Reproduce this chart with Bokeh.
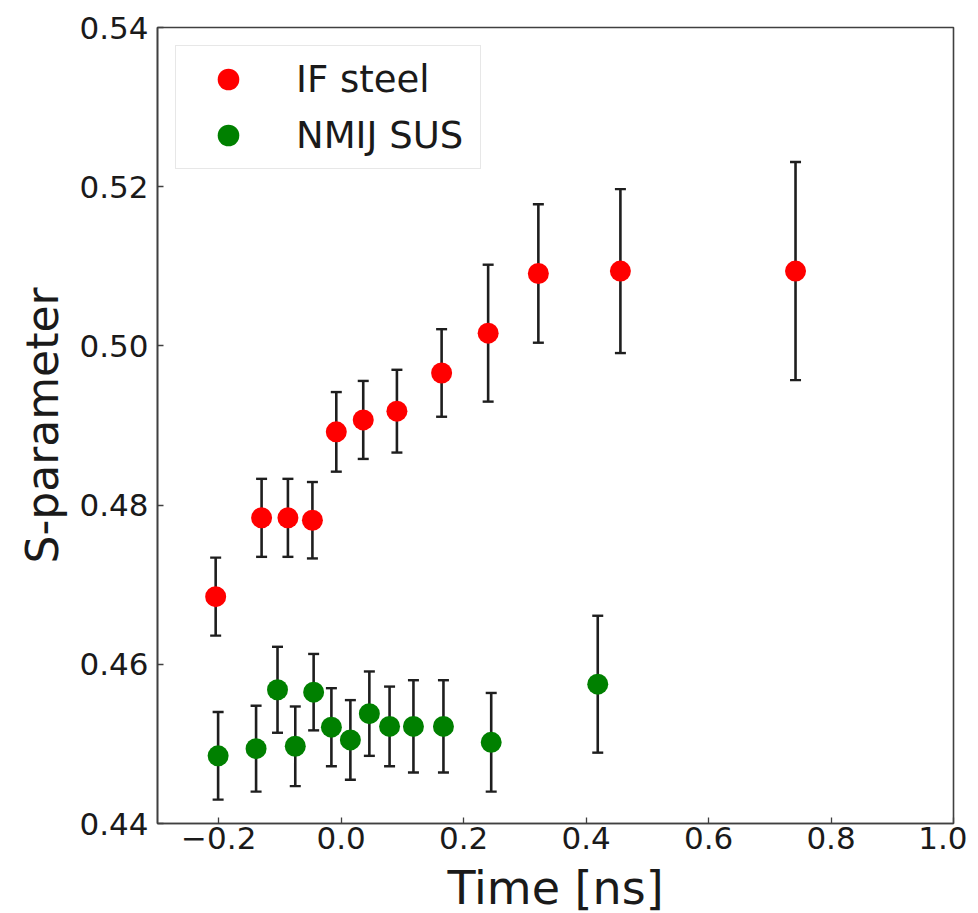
from bokeh.plotting import figure
from bokeh.models import ColumnDataSource, Whisker, TeeHead, FixedTicker, Range1d, Legend, LegendItem
from bokeh.embed import file_html
from bokeh.resources import INLINE

# ---- data ----
if_time = [-0.205, -0.130, -0.087, -0.047, -0.008, 0.036, 0.091, 0.164, 0.240, 0.322, 0.456, 0.742]
if_s    = [0.4685, 0.4784, 0.4784, 0.4781, 0.4892, 0.4907, 0.4918, 0.4966, 0.5016, 0.5091, 0.5094, 0.5094]
if_err  = [0.0049, 0.0049, 0.0049, 0.0048, 0.0050, 0.0049, 0.0052, 0.0055, 0.0086, 0.0087, 0.0103, 0.0137]

sus_time = [-0.201, -0.139, -0.104, -0.075, -0.045, -0.016, 0.015, 0.046, 0.079, 0.118, 0.167, 0.245, 0.419]
sus_s    = [0.4485, 0.4494, 0.4568, 0.4497, 0.4565, 0.4521, 0.4505, 0.4538, 0.4522, 0.4522, 0.4522, 0.4502, 0.4575]
sus_err  = [0.0055, 0.0054, 0.0054, 0.0050, 0.0048, 0.0049, 0.0050, 0.0053, 0.0050, 0.0058, 0.0058, 0.0062, 0.0086]

x_ticks = [-0.2, 0.0, 0.2, 0.4, 0.6, 0.8, 1.0]
x_tick_labels = ["\u22120.2", "0.0", "0.2", "0.4", "0.6", "0.8", "1.0"]
y_ticks = [0.44, 0.46, 0.48, 0.50, 0.52, 0.54]
y_tick_labels = ["0.44", "0.46", "0.48", "0.50", "0.52", "0.54"]

series_names = ["IF steel", "NMIJ SUS"]
series_colors = ["#ff0000", "#008000"]

FONT = "DejaVu Sans"
TXT = "#1a1a1a"
SPINE = "#404040"

p = figure(frame_width=796, frame_height=796,
           x_range=Range1d(-0.3, 1.0), y_range=Range1d(0.44, 0.54),
           output_backend="svg", toolbar_location=None,
           min_border_left=157, min_border_top=27, min_border_right=14, min_border_bottom=10)
p.xgrid.visible = False
p.ygrid.visible = False
p.outline_line_color = SPINE
p.outline_line_width = 1.6
p.background_fill_color = "white"
p.border_fill_color = "white"

for ax in (p.xaxis[0], p.yaxis[0]):
    ax.axis_line_color = SPINE
    ax.axis_line_width = 1.6
    ax.major_tick_line_color = SPINE
    ax.major_tick_line_width = 1.3
    ax.major_tick_in = 6
    ax.major_tick_out = 0
    ax.minor_tick_line_color = None
    ax.major_label_text_font = FONT
    ax.major_label_text_font_size = "31px"
    ax.major_label_text_color = TXT
    ax.axis_label_text_font = FONT
    ax.axis_label_text_font_style = "normal"
    ax.axis_label_text_color = TXT

p.xaxis.ticker = FixedTicker(ticks=x_ticks)
p.xaxis.major_label_overrides = {t: l for t, l in zip(x_ticks, x_tick_labels)}
p.yaxis.ticker = FixedTicker(ticks=y_ticks)
p.yaxis.major_label_overrides = {t: l for t, l in zip(y_ticks, y_tick_labels)}
p.xaxis.major_label_standoff = 3
p.yaxis.major_label_standoff = 9
p.xaxis.axis_label = "Time [ns]"
p.xaxis.axis_label_text_font_size = "46px"
p.xaxis.axis_label_standoff = 9
p.yaxis.axis_label = "S-parameter"
p.yaxis.axis_label_text_font_size = "44px"
p.yaxis.axis_label_standoff = 8

items = []
for name, color, t, s, e in [(series_names[0], series_colors[0], if_time, if_s, if_err),
                             (series_names[1], series_colors[1], sus_time, sus_s, sus_err)]:
    src = ColumnDataSource(dict(t=t, s=s,
                                lo=[a - b for a, b in zip(s, e)],
                                hi=[a + b for a, b in zip(s, e)]))
    w = Whisker(source=src, base="t", upper="hi", lower="lo", dimension="height",
                line_color="#1e1e1e", line_width=2.6, level="glyph",
                upper_head=TeeHead(size=11, line_color="#1e1e1e", line_width=2.4),
                lower_head=TeeHead(size=11, line_color="#1e1e1e", line_width=2.4))
    p.add_layout(w)
    r = p.scatter("t", "s", source=src, size=21, fill_color=color, line_color=color,
                  line_width=0, marker="circle", level="overlay")
    items.append(LegendItem(label=name, renderers=[r]))

legend = Legend(items=items, location="top_left", margin=18, padding=6,
                glyph_width=92, glyph_height=54, spacing=2, label_standoff=22,
                label_width=178,
                label_text_font=FONT, label_text_font_size="37px", label_text_color=TXT,
                border_line_color="#d0d0d0", border_line_width=1.2,
                background_fill_alpha=0.8)
p.add_layout(legend)

open("out.html", "w").write(file_html(p, INLINE))
